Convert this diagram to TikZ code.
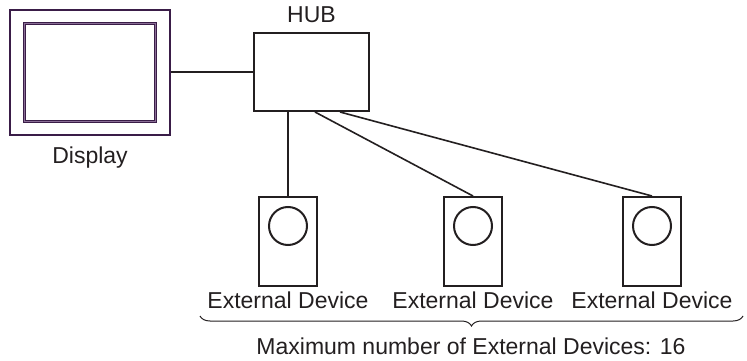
\documentclass[tikz,border=0pt]{standalone}
\usepackage{fontspec}
\setmainfont{Liberation Sans}
\usetikzlibrary{decorations.pathreplacing}
\definecolor{dpurple}{HTML}{3A1D48}
\definecolor{lpurple}{HTML}{8A6E96}
\definecolor{ink}{HTML}{231F20}
\tikzset{
  lbl/.style={font=\fontsize{23}{27}\selectfont, text=ink, inner sep=0pt},
  devbox/.style={draw=ink, line width=2pt, minimum width=58pt, minimum height=89pt, inner sep=0pt},
  hubbox/.style={draw=ink, line width=2pt, minimum width=115pt, minimum height=78pt, inner sep=0pt},
  conn/.style={draw=ink, line width=1.6pt},
  lens/.style={draw=ink, line width=2pt, circle, minimum size=38pt, inner sep=0pt}
}
\begin{document}
\begin{tikzpicture}[x=1pt,y=-1pt]
\useasboundingbox (0,0) rectangle (747,361);
% Display
\node[draw=dpurple, line width=2.5pt, minimum width=160pt, minimum height=125pt, inner sep=0pt] (disp) at (90,72.5) {};
\draw[dpurple, line width=1.5pt] (9.5,10) -- (9.5,135);
\node[draw=dpurple, double=lpurple, double distance=1pt, line width=1pt, minimum width=131pt, minimum height=98pt, inner sep=0pt] (scr) at (90,72.5) {};
\node[lbl] (displbl) at (90,158) {Display};
% HUB
\node[hubbox] (hub) at (311.5,72) {};
\node[lbl] (hublbl) at (311.5,15) {HUB};
% devices
\node[devbox] (d1) at (288,241.5) {};
\node[devbox] (d2) at (473,241.5) {};
\node[devbox] (d3) at (652,241.5) {};
\node[lens] (c1) at (288,226) {};
\node[lens] (c2) at (473,226) {};
\node[lens] (c3) at (652,226) {};
\node[lbl] (l1) at (288,300) {External Device};
\node[lbl] (l2) at (473,300) {External Device};
\node[lbl] (l3) at (652,300) {External Device};
% connectors
\draw[conn] (disp.east |- hub.west) -- (hub.west);
\draw[conn] (hub.south -| d1.north) -- (d1.north);
\coordinate (h2) at ([xshift=3.5pt]hub.south);
\coordinate (h3) at ([xshift=28.5pt]hub.south);
\draw[conn] (h2) -- (d2.north);
\draw[conn] (h3) -- (d3.north);
% brace
\coordinate (bl) at (200,316);
\coordinate (br) at (743,316);
\draw[ink, line width=1pt, decorate, decoration={brace, mirror, amplitude=10pt}] (bl) -- (br);
\node[lbl] (maxlbl) at (471,346) {Maximum number of External Devices: 16};
\end{tikzpicture}
\end{document}
